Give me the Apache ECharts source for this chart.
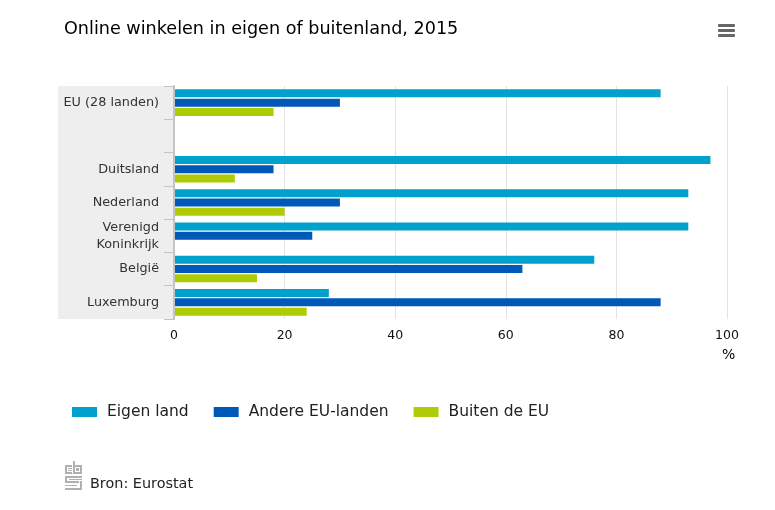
<!DOCTYPE html>
<html>
<head>
<meta charset="utf-8">
<style>html,body{margin:0;padding:0;background:#fff}#chart{width:775px;height:510px}</style>
<script src="https://cdn.jsdelivr.net/npm/echarts@6/dist/echarts.min.js"></script>
</head>
<body>
<div id="chart"></div>
<script>
var categories = ['EU (28 landen)', '', 'Duitsland', 'Nederland', 'Verenigd\nKoninkrijk', 'België', 'Luxemburg'];
var eigenLand = [88, null, 97, 93, 93, 76, 28];
var andereEu = [30, null, 18, 30, 25, 63, 88];
var buitenEu = [18, null, 11, 20, null, 15, 24];
var seriesNames = ['Eigen land', 'Andere EU-landen', 'Buiten de EU'];
var colors = ['#00a1cd', '#0058b8', '#afcb05'];
var font = '"DejaVu Sans", Verdana, sans-serif';

var chart = echarts.init(document.getElementById('chart'));

function bar(i, values) {
  return {
    name: seriesNames[i],
    type: 'bar',
    data: values,
    barWidth: 8,
    barGap: '16%',
    itemStyle: { color: colors[i] },
    animation: false
  };
}

// hamburger menu and cbs logo are plain shapes
var logo = [
  // c
  [65, 465, 7, 2], [65, 465, 2, 9], [65, 472, 7, 2], [68, 468, 4, 1], [68, 470, 4, 1],
  // b
  [73, 461, 2, 13], [73, 465, 9, 2], [73, 472, 9, 2], [80, 465, 2, 9], [76, 468, 3, 3],
  // s
  [65, 476, 17, 2], [65, 476, 2, 7], [65, 481, 14, 2], [69, 479, 13, 1],
  [80, 481, 2, 9], [65, 488, 17, 2], [65, 485, 12, 1]
].map(function (r) {
  return { type: 'rect', shape: { x: r[0], y: r[1], width: r[2], height: r[3] }, style: { fill: '#b0b0b0' }, silent: true };
});

var menu = [24, 29, 34].map(function (y) {
  return { type: 'rect', shape: { x: 718, y: y, width: 17, height: 3, r: 1 }, style: { fill: '#666666' }, silent: true };
});

chart.setOption({
  animation: false,
  backgroundColor: '#ffffff',
  textStyle: { fontFamily: font },
  title: {
    text: 'Online winkelen in eigen of buitenland, 2015',
    left: 59,
    top: 15,
    textStyle: { fontFamily: font, fontSize: 17.6, fontWeight: 'normal', color: '#000000' }
  },
  legend: {
    left: 67,
    top: 399,
    itemWidth: 25,
    itemHeight: 10,
    itemGap: 25,
    icon: 'rect',
    data: seriesNames,
    textStyle: { fontFamily: font, fontSize: 15.5, color: '#222222', padding: [0, 0, 0, 5] }
  },
  grid: { left: 174, right: 48, top: 86, bottom: 191 },
  xAxis: {
    type: 'value',
    min: 0,
    max: 100,
    interval: 20,
    axisLine: { show: false },
    axisTick: { show: false },
    axisLabel: { color: '#111111', fontSize: 12.5, margin: 10, fontFamily: font },
    splitLine: { lineStyle: { color: '#e3e3e3', width: 1 } }
  },
  yAxis: {
    type: 'category',
    inverse: true,
    data: categories,
    axisLine: { lineStyle: { color: '#c4c4c4', width: 2 } },
    axisTick: { show: true, length: 10, alignWithLabel: false, lineStyle: { color: '#c4c4c4' } },
    axisLabel: { color: '#333333', fontSize: 12.8, margin: 15, lineHeight: 17, padding: [4, 0, 0, 0], align: 'right', fontFamily: font },
    splitLine: { show: false },
    z: 3
  },
  series: [bar(0, eigenLand), bar(1, andereEu), bar(2, buitenEu)],
  graphic: [
    { type: 'rect', z: -1, silent: true, shape: { x: 58, y: 86, width: 116, height: 233 }, style: { fill: '#eeeeee' } },
    { type: 'text', x: 722, y: 348, silent: true, style: { text: '%', fill: '#000000', font: '14px ' + font } },
    { type: 'text', x: 90, y: 477, silent: true, style: { text: 'Bron: Eurostat', fill: '#222222', font: '14.4px ' + font } }
  ].concat(menu, logo)
});
</script>
</body>
</html>
